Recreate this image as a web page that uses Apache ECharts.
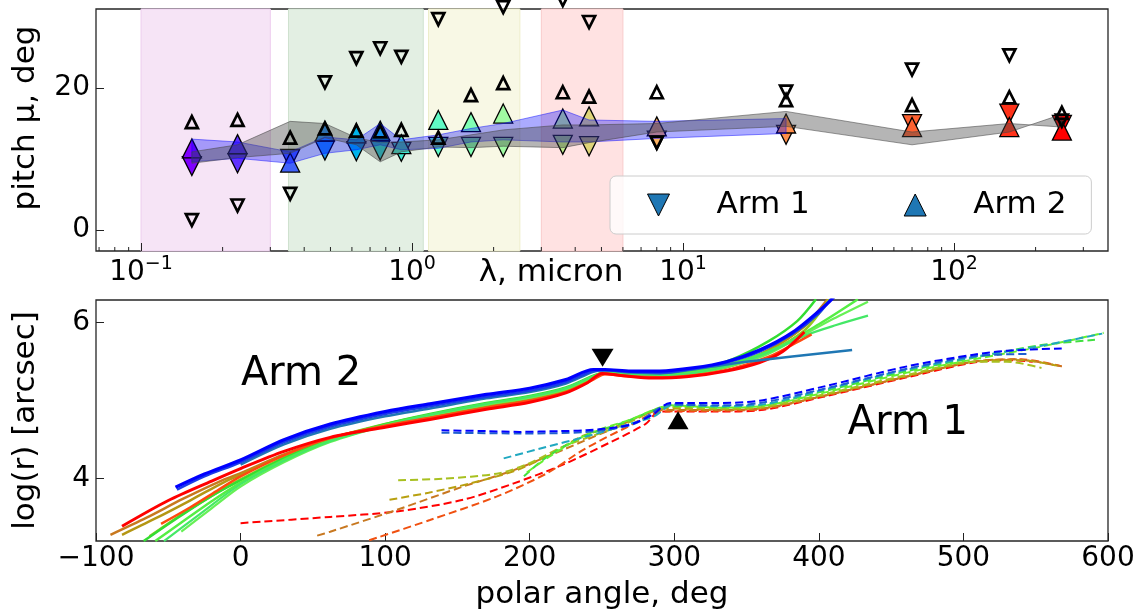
<!DOCTYPE html>
<html><head><meta charset="utf-8">
<script src="https://cdn.jsdelivr.net/npm/echarts@6/dist/echarts.min.js"></script>
<style>html,body{margin:0;padding:0;background:#fff}#chart{width:1145px;height:614px}</style>
</head><body><div id="chart"></div>
<script>
// ---------- TOP PANEL DATA ----------
const lambdaMicron = [0.154, 0.227, 0.355, 0.477, 0.623, 0.763, 0.913, 1.25, 1.65, 2.17, 3.6, 4.5, 8.0, 24, 70, 160, 250];
const arm1Pitch    = [9.0, 9.4, 10.0, 11.2, 11.1, 11.2, 11.0, 11.7, 11.7, 11.7, 12.0, 11.8, 12.6, 13.4, 14.9, 16.4, 14.8];
const arm2Pitch    = [11.5, 12.1, 9.5, 13.9, 13.6, 14.0, 12.1, 15.5, 15.2, 16.4, 15.7, 16.0, 14.6, 15.0, 14.5, 14.5, 14.0];
const arm1PitchAlt = [1.4, 3.45, 5.1, 20.8, 24.2, 25.6, 24.4, 29.7, 34.0, 31.4, 32.4, 29.3, 12.3, 19.5, 22.6, 24.6, 15.4];
const arm2PitchAlt = [15.2, 15.5, 13.0, 14.3, 14.0, 13.9, 14.1, 13.0, 19.0, 20.7, 19.4, 18.8, 19.4, 18.3, 17.6, 18.7, 16.5];
const grayHi = [11.0, 12.0, 15.3, 15.0, 13.0, 12.3, 12.4, 12.7, 13.4, 14.1, 14.8, 14.8, 15.0, 16.7, 13.8, 15.0, 14.5];
const grayLo = [9.4, 10.2, 10.8, 13.0, 12.0, 9.6, 11.0, 11.7, 11.6, 11.8, 11.6, 12.3, 13.8, 14.6, 12.0, 13.8, 16.3];
const blueHi = [12.8, 12.4, 11.0, 13.1, 12.7, 15.0, 12.7, 13.4, 14.3, 15.0, 16.9, 15.5, 15.3, 15.7];
const blueLo = [9.6, 10.1, 9.4, 10.8, 11.3, 12.0, 11.3, 11.5, 12.4, 12.7, 12.4, 12.4, 12.9, 13.6];
const bandStart = [0.1, 0.35, 1.15, 3.0];
const bandEnd   = [0.3, 1.1, 2.5, 6.0];
const xTickValues = [0.1, 1, 10, 100];
const xMinorTicks = [0.07, 0.08, 0.09, 0.2, 0.3, 0.4, 0.5, 0.6, 0.7, 0.8, 0.9, 2, 3, 4, 5, 6, 7, 8, 9, 20, 30, 40, 50, 60, 70, 80, 90, 200, 300];
const yTicksTop = [0, 20];

// ---------- BOTTOM PANEL DATA (polar angle deg, log r) ----------
const a2Blue   = [[-45,3.89],[-25,4.06],[0,4.24],[30,4.50],[62,4.70],[100,4.86],[131,4.96],[170,5.08],[200,5.16],[225,5.27],[244,5.40],[252,5.40],[270,5.38],[290,5.38],[313,5.42],[336,5.50],[359,5.65],[382,5.88],[405,6.23],[412,6.36]];
const a2Blue2  = [[-44,3.86],[-25,4.03],[0,4.21],[30,4.47],[62,4.67],[100,4.83],[131,4.93],[170,5.05],[200,5.13],[225,5.24],[244,5.38],[252,5.39],[270,5.37],[290,5.36],[313,5.41],[336,5.49],[359,5.63],[382,5.86],[400,6.12],[410,6.35]];
const a2Steel  = [[0,4.18],[30,4.44],[62,4.64],[100,4.80],[131,4.90],[170,5.03],[200,5.11],[225,5.22],[244,5.37],[252,5.39],[270,5.36],[290,5.35],[320,5.42],[350,5.50],[423,5.65]];
const a2Green1 = [[-67,3.20],[-45,3.48],[-20,3.78],[0,3.98],[30,4.26],[62,4.50],[100,4.70],[131,4.83],[170,4.97],[200,5.06],[225,5.17],[244,5.32],[252,5.36],[270,5.35],[290,5.34],[315,5.40],[340,5.53],[365,5.76],[385,6.02],[398,6.30]];
const a2Green2 = [[-59,3.20],[-40,3.45],[-20,3.71],[0,3.95],[30,4.24],[62,4.49],[100,4.69],[131,4.82],[170,4.96],[200,5.05],[225,5.16],[244,5.31],[252,5.36],[270,5.34],[290,5.33],[315,5.38],[340,5.48],[370,5.67],[400,5.98],[427,6.30]];
const a2Green3 = [[-41,3.32],[-20,3.62],[0,3.90],[30,4.21],[62,4.47],[100,4.68],[131,4.81],[170,4.95],[200,5.04],[225,5.15],[244,5.31],[252,5.35],[270,5.33],[290,5.32],[315,5.36],[340,5.45],[365,5.60],[387,5.82],[410,6.05],[434,6.27]];
const a2Green4 = [[-53,3.20],[-30,3.52],[0,3.93],[30,4.23],[62,4.48],[100,4.68],[131,4.82],[170,4.96],[200,5.05],[225,5.16],[244,5.31],[252,5.35],[270,5.33],[290,5.32],[315,5.36],[340,5.46],[365,5.62],[391,5.84],[412,5.97],[434,6.09]];
const a2YGreen = [[-63,3.26],[-40,3.55],[-20,3.78],[0,3.99],[30,4.27],[62,4.51],[100,4.70],[131,4.82],[170,4.95],[200,5.04],[225,5.15],[244,5.30],[252,5.35],[270,5.33],[290,5.32],[315,5.36],[340,5.45],[365,5.62],[390,5.90],[407,6.30]];
const a2Olive  = [[-82,3.28],[-60,3.48],[-35,3.72],[-10,3.97],[0,4.05],[30,4.30],[62,4.51],[100,4.69],[131,4.80],[170,4.94],[200,5.03],[225,5.14],[244,5.30],[252,5.35],[270,5.33],[290,5.32],[315,5.36],[340,5.46],[365,5.65],[390,5.95],[408,6.30]];
const a2Orange = [[-90,3.28],[-65,3.50],[-40,3.74],[-15,3.96],[0,4.07],[30,4.31],[62,4.52],[100,4.69],[131,4.80],[170,4.93],[200,5.02],[225,5.13],[244,5.29],[252,5.35],[270,5.32],[290,5.31],[315,5.35],[340,5.45],[365,5.64],[390,5.96],[406,6.30]];
const a2ORed   = [[-55,3.42],[-35,3.63],[-15,3.86],[0,4.03],[30,4.30],[62,4.52],[100,4.68],[131,4.78],[170,4.91],[200,5.00],[225,5.11],[244,5.27],[252,5.34],[270,5.31],[290,5.30],[315,5.33],[340,5.41],[365,5.56],[385,5.75],[395,5.85]];
const a2Red    = [[-82,3.39],[-50,3.72],[-20,3.97],[0,4.13],[30,4.35],[62,4.53],[100,4.66],[131,4.76],[170,4.89],[200,4.98],[225,5.10],[240,5.23],[250,5.35],[265,5.32],[285,5.29],[310,5.31],[336,5.38],[359,5.49],[375,5.63],[390,5.88]];

const a1Blue   = [[139,4.62],[170,4.61],[193,4.60],[220,4.61],[239,4.62],[260,4.66],[272,4.71],[285,4.82],[297,4.97],[310,4.97],[330,4.97],[359,5.00],[403,5.18],[461,5.44],[507,5.59],[530,5.64],[568,5.67]];
const a1Blue2  = [[139,4.59],[193,4.58],[239,4.60],[272,4.70],[297,4.95],[330,4.94],[359,4.97],[403,5.15],[461,5.41],[507,5.57],[546,5.60]];
const a1Teal   = [[182,4.26],[210,4.40],[239,4.54],[265,4.68],[286,4.80],[299,4.95],[330,4.93],[360,4.95],[403,5.14],[461,5.40],[507,5.56],[553,5.70],[596,5.86]];
const a1YGreen = [[109,3.98],[140,4.00],[179,4.07],[200,4.20],[223,4.41],[262,4.67],[296,4.92],[330,4.90],[360,4.92],[403,5.08],[461,5.33],[507,5.50],[530,5.50],[554,5.42]];
const a1Olive  = [[103,3.73],[130,3.82],[159,3.94],[191,4.11],[215,4.32],[237,4.55],[265,4.70],[295,4.90],[330,4.89],[360,4.91],[403,5.07],[461,5.32],[507,5.50],[540,5.52],[565,5.45]];
const a1Orange = [[53,3.27],[62,3.32],[108,3.60],[154,3.90],[189,4.11],[223,4.37],[255,4.62],[293,4.88],[330,4.88],[360,4.90],[403,5.06],[461,5.31],[507,5.50],[535,5.53],[568,5.44]];
const a1Red    = [[0,3.43],[62,3.51],[108,3.58],[154,3.73],[189,3.94],[223,4.18],[255,4.46],[280,4.70],[290,4.86],[330,4.86],[360,4.88],[403,5.05],[461,5.30],[507,5.49],[530,5.52],[548,5.50]];
const a1ORed   = [[89,3.21],[131,3.47],[177,3.77],[212,4.07],[237,4.37],[265,4.64],[292,4.86],[330,4.87],[360,4.89],[403,5.06],[461,5.31],[507,5.50],[540,5.53],[568,5.44]];
const a1Green  = [[196,4.03],[212,4.28],[237,4.54],[265,4.72],[298,4.93],[330,4.92],[360,4.94],[403,5.12],[461,5.38],[507,5.55],[553,5.71],[591,5.78]];
const a1Green2 = [[198,4.08],[215,4.30],[240,4.57],[270,4.76],[298,4.94],[330,4.91],[360,4.93],[403,5.10],[461,5.36],[507,5.53],[553,5.69],[597,5.87]];

const arm2Marker = [250.4, 5.55];
const arm1Marker = [302.6, 4.75];
const annotX = [0.3, 420];
const annotY = [5.33, 4.71];
const annotText = ['Arm 2', 'Arm 1'];
const yTicksBottom = [4, 6];

// ---------- STYLES ----------
const FONT = 'DejaVu Sans';
const markerColors = ['#8000ff','#6032fe','#4062fa','#208ef4','#00b4eb','#20d4e1','#40ecd4','#60fac5','#80ffb4','#a0faa2','#c0ec8e','#dfd478','#ffb462','#ff8e4a','#ff6232','#ff3219','#ff0000'];
const bandFill = ['#f6e4f6','#e3efe3','#f8f8e5','#ffe2e2'];
const bandEdge = ['#edcdee','#cfe2cf','#eeeecb','#f9cccc'];
const DOWN = 'path://M0,0L2,0L1,2Z';
const UP = 'path://M1,0L2,2L0,2Z';

const solidLines = [
  [a2Orange,'#c8781e',2.5],[a2Olive,'#b49614',2.5],[a2YGreen,'#96c81e',2.5],
  [a2Green1,'#33dd33',2.5],[a2Green2,'#55ee44',2.5],[a2Green3,'#66f055',2.2],[a2Green4,'#44e866',2.2],
  [a2ORed,'#ff4a10',2.5],[a2Red,'#ff0000',3],
  [a2Steel,'#1f77b4',2.5],[a2Blue2,'#1a3ce8',2.5],[a2Blue,'#0000ff',3.2]
];
const dashedLines = [
  [a1Red,'#ff0000'],[a1ORed,'#f05010'],[a1Orange,'#c87820'],[a1Olive,'#b8a010'],[a1YGreen,'#a8c020'],
  [a1Green,'#40e040'],[a1Green2,'#66f030'],[a1Teal,'#20a8c0'],[a1Blue2,'#1f5fd0'],[a1Blue,'#0000ff']
];

function polygonSeries(xs, lo, hi, fill, stroke, z) {
  return {
    type: 'custom', xAxisIndex: 0, yAxisIndex: 0, z: z, silent: true,
    data: xs.map((x, i) => [x, lo[i], hi[i]]),
    encode: {x: 0, y: [1, 2]},
    renderItem: function (params, api) {
      if (params.dataIndex !== 0) return null;
      const pts = [];
      for (let i = 0; i < xs.length; i++) pts.push(api.coord([xs[i], hi[i]]));
      for (let i = xs.length - 1; i >= 0; i--) pts.push(api.coord([xs[i], lo[i]]));
      return {type: 'polygon', shape: {points: pts}, style: {fill: fill, stroke: stroke, lineWidth: 1}};
    }
  };
}

const series = [];
series.push({
  type: 'custom', xAxisIndex: 0, yAxisIndex: 0, z: 0, silent: true,
  data: bandStart.map((s, i) => [s, bandEnd[i], 1]),
  encode: {x: [0, 1], y: 2},
  renderItem: function (params, api) {
    const cs = params.coordSys;
    const p0 = api.coord([api.value(0), 1]);
    const p1 = api.coord([api.value(1), 1]);
    return {type: 'rect', shape: {x: p0[0], y: cs.y, width: p1[0] - p0[0], height: cs.height},
      style: {fill: bandFill[params.dataIndex], stroke: bandEdge[params.dataIndex], lineWidth: 1}};
  }
});
series.push({
  type: 'custom', xAxisIndex: 0, yAxisIndex: 0, z: 5, silent: true,
  data: xMinorTicks.map(v => [v, 0]),
  encode: {x: 0, y: 1},
  renderItem: function (params, api) {
    const cs = params.coordSys;
    const p = api.coord([api.value(0), 0]);
    const yb = cs.y + cs.height;
    return {type: 'line', shape: {x1: p[0], y1: yb, x2: p[0], y2: yb - 4}, style: {stroke: '#222', lineWidth: 1}};
  }
});
series.push({
  name: 'Arm 1', type: 'scatter', xAxisIndex: 0, yAxisIndex: 0, z: 2, silent: true,
  symbol: DOWN, symbolSize: 19, clip: false,
  data: lambdaMicron.map((l, i) => [l, arm1Pitch[i]]),
  itemStyle: {color: p => markerColors[p.dataIndex], borderColor: '#000', borderWidth: 1.3, opacity: 1}
});
series.push({
  name: 'Arm 2', type: 'scatter', xAxisIndex: 0, yAxisIndex: 0, z: 2, silent: true,
  symbol: UP, symbolSize: 19, clip: false,
  data: lambdaMicron.map((l, i) => [l, arm2Pitch[i]]),
  itemStyle: {color: p => markerColors[p.dataIndex], borderColor: '#000', borderWidth: 1.3, opacity: 1}
});
series.push(polygonSeries(lambdaMicron.slice(0, blueHi.length), blueLo, blueHi, 'rgba(0,0,255,0.33)', 'rgba(0,0,255,0.45)', 3));
series.push(polygonSeries(lambdaMicron, grayLo, grayHi, 'rgba(70,70,70,0.40)', 'rgba(70,70,70,0.55)', 3));
series.push({
  name: 'arm1 alt', type: 'scatter', xAxisIndex: 0, yAxisIndex: 0, z: 4, silent: true,
  symbol: DOWN, symbolSize: 12, clip: false,
  data: lambdaMicron.map((l, i) => [l, arm1PitchAlt[i]]),
  itemStyle: {color: 'rgba(0,0,0,0)', borderColor: '#000', borderWidth: 2.7, opacity: 1}
});
series.push({
  name: 'arm2 alt', type: 'scatter', xAxisIndex: 0, yAxisIndex: 0, z: 4, silent: true,
  symbol: UP, symbolSize: 12, clip: false,
  data: lambdaMicron.map((l, i) => [l, arm2PitchAlt[i]]),
  itemStyle: {color: 'rgba(0,0,0,0)', borderColor: '#000', borderWidth: 2.7, opacity: 1}
});

dashedLines.forEach(function (d) {
  series.push({type: 'line', xAxisIndex: 1, yAxisIndex: 1, data: d[0], showSymbol: false, smooth: 0.3, silent: true, z: 2,
    lineStyle: {color: d[1], width: 2, type: [8, 4]}});
});
solidLines.forEach(function (d) {
  series.push({type: 'line', xAxisIndex: 1, yAxisIndex: 1, data: d[0], showSymbol: false, smooth: 0.3, silent: true, z: 3,
    lineStyle: {color: d[1], width: d[2]}});
});
series.push({type: 'scatter', xAxisIndex: 1, yAxisIndex: 1, symbol: DOWN, symbolSize: [22, 18], z: 5, silent: true,
  data: [arm2Marker], itemStyle: {color: '#000', opacity: 1}});
series.push({type: 'scatter', xAxisIndex: 1, yAxisIndex: 1, symbol: UP, symbolSize: [21, 18], z: 5, silent: true,
  data: [arm1Marker], itemStyle: {color: '#000', opacity: 1}});
series.push({
  type: 'custom', xAxisIndex: 1, yAxisIndex: 1, z: 6, silent: true,
  data: annotX.map((x, i) => [x, annotY[i]]),
  encode: {x: 0, y: 1},
  renderItem: function (params, api) {
    const p = api.coord([api.value(0), api.value(1)]);
    return {type: 'text', x: p[0], y: p[1], style: {text: annotText[params.dataIndex], fill: '#000',
      font: '40px "DejaVu Sans"', align: 'left', verticalAlign: 'middle'}};
  }
});

const axisTxt = {color: '#000', fontFamily: FONT, fontSize: 28};
const nameTxt = {color: '#000', fontFamily: FONT, fontSize: 31};
const tickStyle = {inside: true, length: 8, lineStyle: {color: '#222', width: 1}};
const noLine = {show: false, onZero: false};

const option = {
  animation: false,
  textStyle: {fontFamily: FONT},
  grid: [
    {left: 96, right: 37, top: 9, height: 242, show: true, borderColor: '#262626', borderWidth: 1.3, backgroundColor: 'transparent', outerBoundsMode: 'none'},
    {left: 96, right: 37, top: 300, height: 241, show: true, borderColor: '#262626', borderWidth: 1.3, backgroundColor: 'transparent', outerBoundsMode: 'none'}
  ],
  xAxis: [
    {type: 'log', logBase: 10, gridIndex: 0, min: 0.0682, max: 370,
      axisLine: noLine, splitLine: {show: false},
      axisTick: Object.assign({customValues: xTickValues}, tickStyle),
      axisLabel: Object.assign({customValues: xTickValues, margin: 4,
        formatter: function (v) {
          const e = Math.round(Math.log10(v));
          return '10{sup|' + (e < 0 ? '\u2212' + (-e) : String(e)) + '}';
        },
        rich: {sup: {fontSize: 19, fontFamily: FONT, color: '#000', padding: [0, 0, 17, 0]}}}, axisTxt),
      name: '\u03bb, micron', nameLocation: 'middle', nameGap: 6, nameMoveOverlap: false,
      nameTextStyle: Object.assign({padding: [0, 102, 0, 0]}, nameTxt)},
    {type: 'value', gridIndex: 1, min: -100, max: 600, interval: 100,
      axisLine: noLine, splitLine: {show: false}, axisTick: tickStyle,
      axisLabel: Object.assign({margin: 4, formatter: v => (v < 0 ? '\u2212' + (-v) : String(v))}, axisTxt),
      name: 'polar angle, deg', nameLocation: 'middle', nameGap: 38, nameMoveOverlap: false, nameTextStyle: nameTxt}
  ],
  yAxis: [
    {type: 'value', gridIndex: 0, min: -2.96, max: 31.13,
      axisLine: noLine, splitLine: {show: false},
      axisTick: Object.assign({customValues: yTicksTop}, tickStyle),
      axisLabel: Object.assign({customValues: yTicksTop, margin: 6}, axisTxt),
      name: 'pitch \u03bc, deg', nameLocation: 'middle', nameRotate: 90, nameGap: 55, nameMoveOverlap: false,
      nameTextStyle: Object.assign({padding: [0, 0, 0, 24]}, nameTxt)},
    {type: 'value', gridIndex: 1, min: 3.201, max: 6.291,
      axisLine: noLine, splitLine: {show: false},
      axisTick: Object.assign({customValues: yTicksBottom}, tickStyle),
      axisLabel: Object.assign({customValues: yTicksBottom, margin: 6}, axisTxt),
      name: 'log(r) [arcsec]', nameLocation: 'middle', nameRotate: 90, nameGap: 55, nameMoveOverlap: false, nameTextStyle: nameTxt}
  ],
  legend: {
    left: 610, top: 176, orient: 'horizontal', selectedMode: false,
    padding: [12, 25, 12, 37], itemWidth: 22, itemHeight: 22, itemGap: 94,
    backgroundColor: 'rgba(255,255,255,0.8)', borderColor: '#cccccc', borderWidth: 1, borderRadius: 6,
    textStyle: {fontSize: 31, fontFamily: FONT, color: '#000', padding: [0, 0, 0, 42], lineHeight: 34},
    data: [
      {name: 'Arm 1', icon: DOWN, itemStyle: {color: '#1f77b4', borderColor: '#000', borderWidth: 1}},
      {name: 'Arm 2', icon: UP, itemStyle: {color: '#1f77b4', borderColor: '#000', borderWidth: 1}}
    ]
  },
  series: series
};
const chart = echarts.init(document.getElementById('chart'), null, {renderer: 'canvas'});
chart.setOption(option);
</script></body></html>
